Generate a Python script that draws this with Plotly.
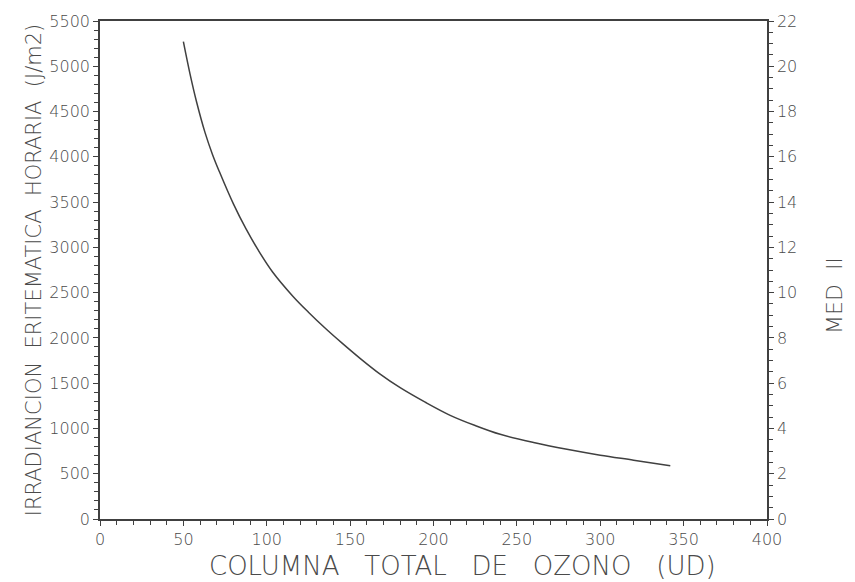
import plotly.graph_objects as go

# Data
ozone = [50, 54, 58, 63, 67.5, 71.5, 80, 87.5, 95, 103.5, 115.5, 125, 135.6, 145,
         155.6, 168, 180, 195, 210, 225, 240, 260, 280, 300, 320, 342]
irradiance = [5272, 4914, 4600, 4267, 4024, 3840, 3480, 3206, 2966, 2728, 2464, 2284,
              2098, 1945, 1780, 1600, 1450, 1290, 1145, 1032, 935, 845, 770, 705, 650, 588]
J_PER_MED = 250  # 5500 J/m2 == 22 MED

x_ticks = [0, 50, 100, 150, 200, 250, 300, 350, 400]
y_ticks = list(range(0, 5501, 500))
y2_ticks = list(range(0, 23, 2))

ink = "#404040"
text_col = "#4a4a4a"
font_family = "DejaVu Sans"

fig = go.Figure()
fig.add_trace(go.Scatter(
    x=ozone, y=irradiance, mode="lines", line=dict(color=ink, width=1.5, shape="spline"),
    showlegend=False, hoverinfo="skip"))
fig.add_trace(go.Scatter(
    x=ozone, y=[v / J_PER_MED for v in irradiance], mode="lines", yaxis="y2",
    line=dict(color=ink, width=1.5, shape="spline"), opacity=0,
    showlegend=False, hoverinfo="skip"))

axis_common = dict(
    showgrid=False, zeroline=False, showline=True, linecolor=ink, linewidth=1.5,
    ticks="outside", ticklen=5, tickwidth=1, tickcolor=ink,
    tickfont=dict(family=font_family, size=16, color=text_col, weight=200),
)

fig.update_layout(
    width=855, height=582,
    margin=dict(l=100, r=88, t=15, b=63),
    paper_bgcolor="white", plot_bgcolor="white",
    xaxis=dict(
        range=[0, 400], tickvals=x_ticks, ticktext=[str(v) for v in x_ticks],
        mirror=True,
        minor=dict(dtick=10, ticks="outside", ticklen=4, tickcolor=ink, tickwidth=1),
        **axis_common,
    ),
    yaxis=dict(
        range=[0, 5500], tickvals=y_ticks, ticktext=[str(v) for v in y_ticks],
        minor=dict(dtick=100, ticks="outside", ticklen=4, tickcolor=ink, tickwidth=1),
        title=dict(text="IRRADIANCION  ERITEMATICA  HORARIA  (J/m2)",
                   font=dict(family=font_family, size=21, color=text_col, weight=200),
                   standoff=2),
        **axis_common,
    ),
    yaxis2=dict(
        range=[0, 22], tickvals=y2_ticks, ticktext=[str(v) for v in y2_ticks],
        overlaying="y", side="right",
        minor=dict(dtick=0.5, ticks="outside", ticklen=4, tickcolor=ink, tickwidth=1),
        **axis_common,
    ),
    annotations=[
        dict(text="COLUMNA   TOTAL   DE   OZONO   (UD)", xref="paper", yref="paper",
             x=0.543, y=-0.094, xanchor="center", yanchor="middle", showarrow=False,
             font=dict(family=font_family, size=26, color=text_col, weight=200)),
        dict(text="MED  II", textangle=-90, xref="paper", yref="paper",
             x=1.102, y=0.448, xanchor="center", yanchor="middle", showarrow=False,
             font=dict(family=font_family, size=22, color=text_col, weight=200)),
    ],
)

fig.write_html("out.html")
